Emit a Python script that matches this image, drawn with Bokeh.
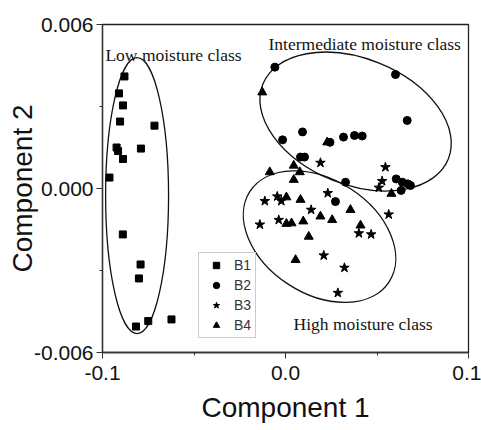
import math
from bokeh.plotting import figure
from bokeh.models import (Range1d, FixedTicker, NumeralTickFormatter, Label,
                          Legend, LegendItem)
from bokeh.embed import file_html
from bokeh.resources import INLINE

# ---- data ----
b1_x = [-0.0880, -0.0910, -0.0888, -0.0904, -0.0716, -0.0923, -0.0915, -0.0790,
        -0.0888, -0.0962, -0.0889, -0.0792, -0.0801, -0.0817, -0.0750, -0.0623]
b1_y = [0.00410, 0.00348, 0.00304, 0.00245, 0.00230, 0.00150, 0.00137, 0.00146,
        0.00108, 0.00040, -0.00168, -0.00278, -0.00329, -0.00505, -0.00485, -0.00479]

b2_x = [-0.0058, 0.0601, 0.0665, -0.0016, 0.0093, 0.0243, 0.0317, 0.0377, 0.0419,
        0.0082, 0.0104, 0.0328, 0.0605, 0.0638, 0.0668, 0.0683, 0.0632, 0.0273]
b2_y = [0.00444, 0.00417, 0.00249, 0.00178, 0.00207, 0.00169, 0.00188, 0.00194, 0.00192,
        0.00115, 0.00115, 0.00023, 0.00035, 0.00023, 0.00017, 0.00011, -0.00007, -0.00048]

b3_x = [0.0191, 0.0546, 0.0528, 0.0510, 0.0564, -0.0113, -0.0045, -0.0023, 0.0231,
        0.0140, -0.0140, -0.0037, 0.0401, 0.0468, 0.0209, 0.0322, 0.0286]
b3_y = [0.00094, 0.00078, 0.00027, 0.00003, -0.00095, -0.00046, -0.00029, -0.00046, -0.00017,
        -0.00078, -0.00132, -0.00115, -0.00164, -0.00168, -0.00245, -0.00290, -0.00382]

b4_x = [-0.0127, 0.0228, -0.0086, 0.0045, 0.0078, 0.0045, 0.0005, 0.0082, 0.0005,
        0.0033, 0.0097, 0.0191, 0.0255, 0.0355, 0.0410, 0.0127, 0.0055, 0.0579]
b4_y = [0.00352, 0.00169, 0.00060, 0.00084, 0.00060, 0.00032, -0.00032, -0.00041, -0.00129,
        -0.00127, -0.00120, -0.00102, -0.00115, -0.00078, -0.00135, -0.00176, -0.00261, -0.00019]

series_names = ["B1", "B2", "B3", "B4"]

# class ellipses: centre, width, height (data units), angle (deg)
ell_x = [-0.0811, 0.0383, 0.0186]
ell_y = [-0.00026, 0.00245, -0.00176]
ell_w = [0.0344, 0.1093, 0.0907]
ell_h = [0.01010, 0.00461, 0.00417]
ell_angle_deg = [0, -22, -33]

class_names = ["Low moisture class", "Intermediate moisture class", "High moisture class"]
class_lab_x = [-0.0984, -0.0093, 0.0044]
class_lab_y = [0.00487, 0.00527, -0.00494]

x_ticks = [-0.1, 0.0, 0.1]
x_minor = [-0.05, 0.05]
y_ticks = [-0.006, 0.0, 0.006]
y_minor = [-0.003, 0.003]

# ---- figure ----
p = figure(width=481, height=430, output_backend="svg", toolbar_location=None,
           x_range=Range1d(-0.1, 0.1), y_range=Range1d(-0.006, 0.006),
           min_border_left=102, min_border_right=13, min_border_top=24,
           min_border_bottom=78, x_axis_label="Component 1", y_axis_label="Component 2")
p.background_fill_color = "white"
p.border_fill_color = "white"
p.grid.visible = False
p.outline_line_color = "#222222"
p.outline_line_width = 1.3

p.ellipse(x=ell_x, y=ell_y, width=ell_w, height=ell_h,
          angle=[math.radians(a) for a in ell_angle_deg],
          fill_color=None, line_color="#111111", line_width=1.3)

r1 = p.scatter(b1_x, b1_y, marker="square", size=7, color="black")
r2 = p.scatter(b2_x, b2_y, marker="circle", size=8, color="black")
r3 = p.scatter(b3_x, b3_y, marker="star", size=10, color="black")
r4 = p.scatter(b4_x, b4_y, marker="triangle", size=9, color="black")

for t, x, y in zip(class_names, class_lab_x, class_lab_y):
    p.add_layout(Label(x=x, y=y, text=t, text_font="Liberation Serif",
                       text_font_size="17.5px", text_color="#141414",
                       text_align="left", text_baseline="alphabetic"))

legend = Legend(items=[LegendItem(label=n, renderers=[r]) for n, r in
                       zip(series_names, [r1, r2, r3, r4])],
                location=(96, 14), margin=0, padding=4, spacing=4,
                glyph_width=26, glyph_height=16, label_height=16, label_width=14,
                label_standoff=5, label_text_font="Liberation Sans",
                label_text_font_size="14px", label_text_color="#333333",
                border_line_color="#999999", border_line_width=1,
                background_fill_color="white", background_fill_alpha=1)
p.add_layout(legend, "center")

for ax in (p.xaxis[0], p.yaxis[0]):
    ax.axis_line_color = "#333333"
    ax.axis_line_width = 1.3
    ax.major_tick_line_color = "#333333"
    ax.minor_tick_line_color = "#333333"
    ax.major_tick_out = 6
    ax.major_tick_in = 0
    ax.minor_tick_out = 3
    ax.minor_tick_in = 0
    ax.major_label_text_font = "Liberation Sans"
    ax.major_label_text_font_size = "21px"
    ax.major_label_text_color = "#111111"
    ax.axis_label_text_font = "Liberation Sans"
    ax.axis_label_text_font_size = "28px"
    ax.axis_label_text_font_style = "normal"
    ax.axis_label_text_color = "#111111"

p.xaxis.major_label_standoff = 7
p.xaxis.axis_label_standoff = 9
p.yaxis.major_label_standoff = 3
p.yaxis.axis_label_standoff = -7

p.xaxis.ticker = FixedTicker(ticks=x_ticks, minor_ticks=x_minor)
p.yaxis.ticker = FixedTicker(ticks=y_ticks, minor_ticks=y_minor)
p.xaxis.formatter = NumeralTickFormatter(format="0.0")
p.yaxis.formatter = NumeralTickFormatter(format="0.000")

open("out.html", "w").write(file_html(p, INLINE))
